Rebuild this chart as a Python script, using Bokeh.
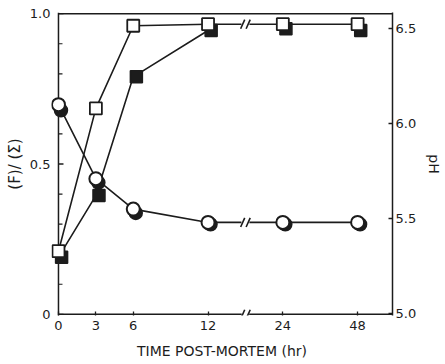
import numpy as np
from bokeh.plotting import figure
from bokeh.models import Range1d, LinearAxis, FixedTicker, ColumnDataSource
from bokeh.transform import dodge
from bokeh.embed import file_html
from bokeh.resources import INLINE

# ---- data ----
hours = [0, 3, 6, 12, 24, 48]
hour_labels = ["0", "3", "6", "12", "24", "48"]
ratio_open = [0.21, 0.685, 0.96, 0.965, 0.965, 0.965]
ratio_filled = [0.19, 0.395, 0.79, 0.944, 0.95, 0.944]
ph_open = [6.10, 5.71, 5.55, 5.48, 5.48, 5.48]
ph_filled = [6.07, 5.69, 5.53, 5.47, 5.47, 5.47]
ratio_ticks = [0, 0.5, 1.0]
ratio_labels = ["0", "0.5", "1.0"]
ratio_minor = [0.1, 0.2, 0.3, 0.4, 0.6, 0.7, 0.8, 0.9]
ph_ticks = [5.0, 5.5, 6.0, 6.5]
ph_labels = ["5.0", "5.5", "6.0", "6.5"]

INK = "#1c1c1c"
FONT = "DejaVu Sans"


def brk(h):
    """Broken time axis: linear up to 12 h, then equal steps per doubling."""
    return h if h <= 12 else 12 + 6 * np.log2(h / 12)


xpos = [float(brk(h)) for h in hours]
BREAK_X = 15.0
X_END = 26.8

p = figure(width=445, height=364, output_backend="svg", toolbar_location=None,
           x_range=Range1d(-0.56, X_END), y_range=Range1d(-0.004, 1.004),
           min_border_left=51, min_border_right=53, min_border_top=12,
           min_border_bottom=49)
p.background_fill_color = "white"
p.border_fill_color = "white"
p.outline_line_color = None
p.xgrid.grid_line_color = None
p.ygrid.grid_line_color = None
p.extra_y_ranges = {"ph": Range1d(4.99, 6.585)}

# bottom axis (line drawn manually so it can be broken)
xa = p.xaxis[0]
xa.ticker = FixedTicker(ticks=xpos)
xa.major_label_overrides = {x: l for x, l in zip(xpos, hour_labels)}
xa.major_tick_in = 4
xa.major_tick_out = 0
xa.axis_label = "TIME POST-MORTEM (hr)"
xa.major_label_standoff = 5
xa.axis_label_standoff = 10

# left axis: labels from Bokeh, line and ticks drawn at t = 0 below
ya = p.yaxis[0]
ya.ticker = FixedTicker(ticks=ratio_ticks)
ya.major_label_overrides = {t: l for t, l in zip(ratio_ticks, ratio_labels)}
ya.axis_label = "(F)/ (Σ)"
ya.major_tick_in = 0
ya.major_tick_out = 0
ya.minor_tick_in = 0
ya.minor_tick_out = 0
ya.major_label_standoff = 1
ya.axis_label_standoff = 3

# right axis
ra = LinearAxis(y_range_name="ph", ticker=FixedTicker(ticks=ph_ticks),
                axis_label="pH")
ra.major_label_overrides = {t: l for t, l in zip(ph_ticks, ph_labels)}
ra.major_tick_in = 4
ra.major_tick_out = 0
ra.major_label_standoff = 3
ra.axis_label_standoff = 7
p.add_layout(ra, "right")

for ax in (xa, ya, ra):
    ax.axis_line_color = INK if ax is ra else None
    ax.axis_line_width = 1.5
    ax.major_tick_line_color = None if ax is ya else INK
    ax.major_tick_line_width = 1.3
    ax.minor_tick_line_color = None
    ax.major_label_text_font = FONT
    ax.major_label_text_font_size = "13px"
    ax.major_label_text_color = INK
    ax.axis_label_text_font = FONT
    ax.axis_label_text_font_size = "14px"
    ax.axis_label_text_font_style = "normal"
    ax.axis_label_text_color = INK
ya.axis_label_text_font_size = "15px"

# frame lines: left (at t = 0), top, and broken bottom
p.segment(x0=[0, 0, 0, BREAK_X + 0.3], y0=[-0.004, 1.0, 0, 0],
          x1=[0, X_END, BREAK_X - 0.3, X_END], y1=[1.004, 1.0, 0, 0],
          line_color=INK, line_width=1.5)
# left-axis ticks pointing inward
p.ray(x=[0] * len(ratio_ticks), y=ratio_ticks, length=5, length_units="screen",
      angle=0, line_color=INK, line_width=1.3)
p.ray(x=[0] * len(ratio_minor), y=ratio_minor, length=4, length_units="screen",
      angle=0, line_color=INK, line_width=1.2)

# connecting lines
p.line(xpos, ratio_open, line_color=INK, line_width=1.6)
p.line(xpos[:4], ratio_filled[:4], line_color=INK, line_width=1.6)
p.line(xpos, ph_open, line_color=INK, line_width=1.6, y_range_name="ph")

# breaks on the lines
r_brk = (ratio_open[3] + ratio_open[4]) / 2
ph_brk = (ph_open[3] + ph_open[4]) / 2
p.rect(x=[BREAK_X], y=[r_brk], width=8, height=12, width_units="screen",
       height_units="screen", fill_color="white", line_color=None)
p.rect(x=[BREAK_X], y=[ph_brk], width=8, height=12, width_units="screen",
       height_units="screen", fill_color="white", line_color=None, y_range_name="ph")
for yy, rn in ((r_brk, "default"), (ph_brk, "ph"), (0.0, "default")):
    p.scatter(x=[BREAK_X - 0.22, BREAK_X + 0.22], y=[yy, yy], marker="dash",
              size=10, angle=1.15, line_color=INK, line_width=1.6, y_range_name=rn)

# markers
src = ColumnDataSource(dict(x=xpos, ro=ratio_open, rf=ratio_filled,
                            po=ph_open, pf=ph_filled))
p.scatter(x=dodge("x", 0.25, range=p.x_range), y="rf", source=src, marker="square",
          size=12, fill_color=INK, line_color=INK, line_width=1.5)
p.scatter(x="x", y="ro", source=src, marker="square", size=12,
          fill_color="white", line_color=INK, line_width=1.8)
p.scatter(x=dodge("x", 0.2, range=p.x_range), y="pf", source=src, marker="circle",
          size=13, fill_color=INK, line_color=INK, line_width=1.5, y_range_name="ph")
p.scatter(x="x", y="po", source=src, marker="circle", size=13,
          fill_color="white", line_color=INK, line_width=2.0, y_range_name="ph")

open("out.html", "w").write(file_html(p, INLINE))
